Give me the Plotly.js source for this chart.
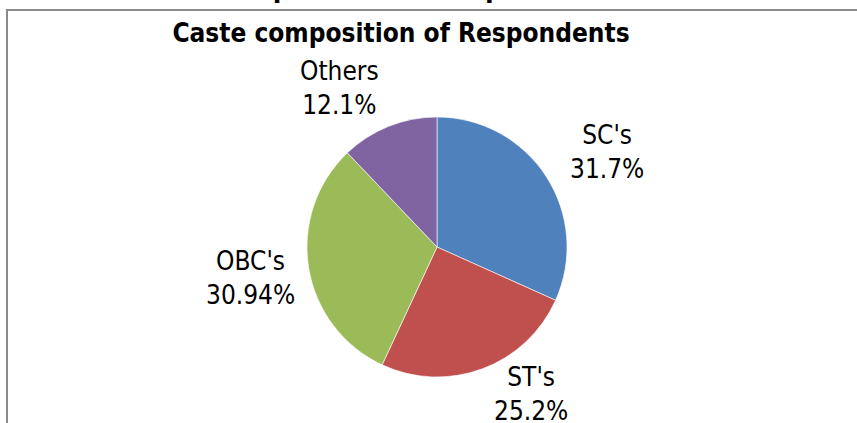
<!DOCTYPE html>
<html>
<head>
<meta charset="utf-8">
<script src="https://cdn.plot.ly/plotly-3.0.1.min.js"></script>
<style>html,body{margin:0;padding:0;background:#fff;}#chart{width:857px;height:423px;}</style>
</head>
<body>
<div id="chart"></div>
<script>
const categories = ["SC's", "ST's", "OBC's", "Others"];
const shares = [31.7, 25.2, 30.94, 12.1];
const shareLabels = ["31.7%", "25.2%", "30.94%", "12.1%"];
const chartTitle = "Caste composition of Respondents";

const colors = ["#4F81BD", "#C0504D", "#9BBB59", "#8064A2"];
const W = 857, H = 423;
const px = x => x / W;
const py = y => 1 - y / H;

// label centre positions (pixels)
const labelPos = [[607, 152], [531, 394], [250, 278], [339, 88]];

const cx = 437, cy = 247, r = 130;

const trace = {
  type: 'pie',
  labels: categories,
  values: shares,
  sort: false,
  direction: 'clockwise',
  rotation: 0,
  textinfo: 'none',
  hoverinfo: 'label+percent',
  marker: {colors: colors, line: {color: '#ffffff', width: 0.6}},
  domain: {x: [px(cx - r), px(cx + r)], y: [py(cy + r), py(cy - r)]},
  showlegend: false
};

const font = "'DejaVu Sans Condensed', 'DejaVu Sans', sans-serif";
const annotations = categories.map((c, i) => ({
  xref: 'paper', yref: 'paper',
  x: px(labelPos[i][0]), y: py(labelPos[i][1]),
  xanchor: 'center', yanchor: 'middle',
  text: c + '<br>' + shareLabels[i],
  showarrow: false,
  font: {family: font, size: 26, color: '#000'}
}));

// title of the chart above, cut off by the top edge of the picture
annotations.push({
  xref: 'paper', yref: 'paper',
  x: px(372), y: py(-12), xanchor: 'center', yanchor: 'middle',
  text: '<b>' + chartTitle + '</b>', showarrow: false,
  font: {family: font, size: 28, color: '#000'}
});

const layout = {
  width: W, height: H,
  margin: {l: 0, r: 0, t: 0, b: 0},
  paper_bgcolor: '#ffffff',
  title: {
    text: '<b>' + chartTitle + '</b>',
    x: px(401), xanchor: 'center',
    y: py(33), yanchor: 'middle',
    font: {family: font, size: 26, color: '#000'}
  },
  annotations: annotations,
  shapes: [
    {type: 'line', xref: 'paper', yref: 'paper', x0: px(7), x1: px(7), y0: py(9), y1: py(430), line: {color: '#8a8a8a', width: 2}},
    {type: 'line', xref: 'paper', yref: 'paper', x0: px(6), x1: px(860), y0: py(10), y1: py(10), line: {color: '#8a8a8a', width: 2}}
  ]
};

Plotly.newPlot('chart', [trace], layout, {displayModeBar: false, staticPlot: true});
</script>
</body>
</html>
